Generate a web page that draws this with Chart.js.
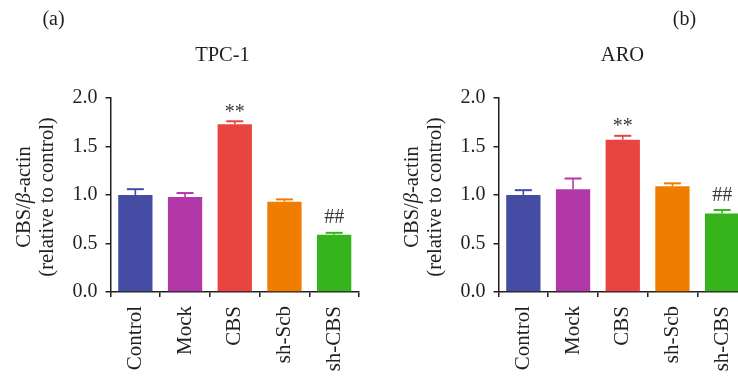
<!DOCTYPE html>
<html>
<head>
<meta charset="utf-8">
<script src="https://cdn.jsdelivr.net/npm/chart.js@4/dist/chart.umd.min.js"></script>
<style>
  html, body { margin: 0; padding: 0; background: #fff; overflow: hidden; }
  body { width: 738px; height: 381px; position: relative; }
  canvas { position: absolute; top: 0; }
  #chartA { left: 0; }
  #chartB { left: 388px; }
</style>
</head>
<body>
<canvas id="chartA" width="370" height="381"></canvas>
<canvas id="chartB" width="370" height="381"></canvas>
<script>
// Groups on the x axis
const categories = ['Control', 'Mock', 'CBS', 'sh-Scb', 'sh-CBS'];

// TPC-1 cells: mean CBS/β-actin (relative to control) and upper error
const tpc1Means  = [1.00, 0.98, 1.73, 0.93, 0.59];
const tpc1Errors = [0.06, 0.04, 0.03, 0.025, 0.02];
const tpc1Marks  = ['', '', '**', '', '##'];

// ARO cells
const aroMeans  = [1.00, 1.06, 1.57, 1.09, 0.81];
const aroErrors = [0.05, 0.11, 0.04, 0.03, 0.035];
const aroMarks  = ['', '', '**', '', '##'];

// y axis ticks
const yTicks = [0.0, 0.5, 1.0, 1.5, 2.0];

const barColors = ['#444ca3', '#b238a8', '#e84541', '#ef7d00', '#36b41c'];
const ink = '#231f20';
const serif = '"Liberation Serif", "Times New Roman", serif';

// Upward error bars with caps plus significance marks above them
const errorBarPlugin = {
  id: 'errorBars',
  afterDatasetsDraw(chart, args, opts) {
    const ctx = chart.ctx;
    const meta = chart.getDatasetMeta(0);
    const yScale = chart.scales.y;
    ctx.save();
    meta.data.forEach((bar, i) => {
      const v = opts.means[i];
      const e = opts.errors[i];
      const x = bar.x;
      const yTop = yScale.getPixelForValue(v + e);
      const yBar = yScale.getPixelForValue(v);
      ctx.strokeStyle = barColors[i];
      ctx.lineWidth = 1.6;
      ctx.beginPath();
      ctx.moveTo(x, yBar);
      ctx.lineTo(x, yTop);
      ctx.stroke();
      ctx.lineWidth = 2;
      ctx.beginPath();
      ctx.moveTo(x - 8.5, yTop);
      ctx.lineTo(x + 8.5, yTop);
      ctx.stroke();
      const mark = opts.marks[i];
      if (mark) {
        ctx.font = '20px ' + serif;
        ctx.fillStyle = '#3a3a3a';
        ctx.textAlign = 'center';
        ctx.textBaseline = 'alphabetic';
        const m = ctx.measureText(mark);
        const descent = m.actualBoundingBoxDescent || 0;
        ctx.fillText(mark, x, yTop - 9.5 - descent);
      }
    });
    ctx.restore();
  }
};

// Panel letter, panel title and the two-line rotated y-axis title
const annotatePlugin = {
  id: 'panelText',
  afterDraw(chart, args, opts) {
    const ctx = chart.ctx;
    ctx.save();
    ctx.fillStyle = ink;
    ctx.textBaseline = 'middle';
    ctx.textAlign = 'center';
    ctx.font = '20px ' + serif;
    ctx.fillText(opts.letter, opts.letterX, 20);
    ctx.font = '20.5px ' + serif;
    ctx.fillText(opts.title, opts.titleX, 56);

    // y-axis title, rotated
    const cy = 197;
    ctx.translate(0, cy);
    ctx.rotate(-Math.PI / 2);
    ctx.font = '20.5px ' + serif;
    ctx.textAlign = 'center';
    ctx.fillText('(relative to control)', 0, 48);

    const parts = [
      { t: 'CBS/', f: '20.5px ' + serif },
      { t: 'β', f: 'italic 20.5px ' + serif },
      { t: '-actin', f: '20.5px ' + serif }
    ];
    let total = 0;
    parts.forEach(p => { ctx.font = p.f; p.w = ctx.measureText(p.t).width; total += p.w; });
    let x = -total / 2;
    ctx.textAlign = 'left';
    parts.forEach(p => { ctx.font = p.f; ctx.fillText(p.t, x, 25); x += p.w; });
    ctx.restore();
  }
};

function makeChart(id, means, errors, marks, letter, letterX, title, titleX) {
  return new Chart(document.getElementById(id), {
    type: 'bar',
    data: {
      labels: categories,
      datasets: [{
        data: means,
        backgroundColor: barColors,
        borderWidth: 0,
        barPercentage: 0.69,
        categoryPercentage: 1.0
      }]
    },
    options: {
      responsive: false,
      animation: false,
      devicePixelRatio: 1,
      layout: { padding: { top: 98, right: 11, left: 0, bottom: 0 } },
      plugins: {
        legend: { display: false },
        tooltip: { enabled: false },
        title: { display: false },
        errorBars: { means: means, errors: errors, marks: marks },
        panelText: { letter: letter, letterX: letterX, title: title, titleX: titleX }
      },
      scales: {
        x: {
          offset: true,
          grid: { display: true, drawOnChartArea: false, drawTicks: true, tickLength: 5, color: ink, lineWidth: 1.5 },
          border: { display: true, color: ink, width: 1.5 },
          ticks: {
            minRotation: 90, maxRotation: 90, padding: 9,
            color: ink, font: { family: serif, size: 21 }
          },
          afterFit(scale) { scale.height = 89; }
        },
        y: {
          min: 0, max: 2,
          grid: { display: true, drawOnChartArea: false, drawTicks: true, tickLength: 5, color: ink, lineWidth: 1.5 },
          border: { display: true, color: ink, width: 1.5 },
          afterBuildTicks(scale) { scale.ticks = yTicks.map(v => ({ value: v })); },
          ticks: {
            padding: 8, color: ink, font: { family: serif, size: 20 },
            callback: v => Number(v).toFixed(1)
          },
          afterFit(scale) { scale.width = 110.5; }
        }
      }
    },
    plugins: [errorBarPlugin, annotatePlugin]
  });
}

makeChart('chartA', tpc1Means, tpc1Errors, tpc1Marks, '(a)', 53.5, 'TPC-1', 222.5);
makeChart('chartB', aroMeans, aroErrors, aroMarks, '(b)', 296.5, 'ARO', 234.5);
</script>
</body>
</html>
